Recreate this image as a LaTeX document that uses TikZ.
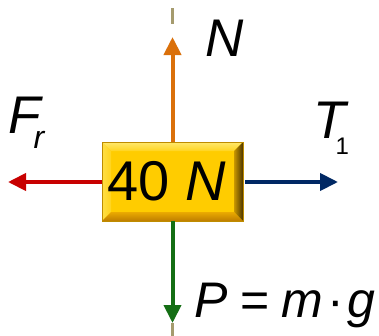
\documentclass[tikz,border=0pt]{standalone}
\usepackage{fontspec}
\setmainfont{Liberation Sans}
\usetikzlibrary{arrows.meta}
\definecolor{gold}{RGB}{255,204,0}
\definecolor{goldline}{RGB}{190,140,0}
\definecolor{goldtop}{RGB}{255,232,110}
\definecolor{goldtop2}{RGB}{255,212,30}
\definecolor{goldleft}{RGB}{255,222,70}
\definecolor{goldright1}{RGB}{200,150,0}
\definecolor{goldright2}{RGB}{75,52,0}
\definecolor{goldbot1}{RGB}{235,170,0}
\definecolor{goldbot2}{RGB}{190,125,0}
\definecolor{forange}{RGB}{218,112,10}
\definecolor{fgreen}{RGB}{20,110,20}
\definecolor{fred}{RGB}{200,0,0}
\definecolor{fnavy}{RGB}{0,40,100}
\definecolor{axtan}{RGB}{165,155,110}
\tikzset{
  force/.style={line width=4pt, -{Triangle[length=18pt,width=17pt]}},
  lab/.style={inner sep=0pt, font=\fontsize{53}{53}\selectfont\itshape},
  goldbox/.style={minimum width=141pt, minimum height=79pt, inner sep=0pt,
    fill=gold, draw=goldline, line width=0.6pt,
    font=\fontsize{56}{56}\selectfont,
    path picture={
      \def\bv{9pt}
      \coordinate (pnw) at (path picture bounding box.north west);
      \coordinate (pne) at (path picture bounding box.north east);
      \coordinate (psw) at (path picture bounding box.south west);
      \coordinate (pse) at (path picture bounding box.south east);
      \shade[top color=goldtop, bottom color=goldtop2] (pnw) -- (pne) -- ([xshift=-\bv,yshift=-\bv]pne) -- ([xshift=\bv,yshift=-\bv]pnw) -- cycle;
      \shade[left color=goldleft, right color=goldtop2] (pnw) -- ([xshift=\bv,yshift=-\bv]pnw) -- ([xshift=\bv,yshift=\bv]psw) -- (psw) -- cycle;
      \shade[left color=goldright1, right color=goldright2] (pne) -- (pse) -- ([xshift=-\bv,yshift=\bv]pse) -- ([xshift=-\bv,yshift=-\bv]pne) -- cycle;
      \shade[top color=goldbot1, bottom color=goldbot2] (psw) -- (pse) -- ([xshift=-\bv,yshift=\bv]pse) -- ([xshift=\bv,yshift=\bv]psw) -- cycle;
    }}
}
\begin{document}
\begin{tikzpicture}[x=1pt,y=-1pt]
\useasboundingbox (0,0) rectangle (379,335);
\fill[white] (0,0) rectangle (379,335);
% axis
\coordinate (axtop) at (172.5,8);
\coordinate (axbot) at (172.5,336);
\draw[axtan, line width=3pt, dash pattern=on 16pt off 29pt] (axtop) -- (axbot);
% box
\node[goldbox] (box) at (172.5,181.5) {40 \textit{N}\kern12pt};
% tips
\coordinate (ntip) at (172.5,37);
\coordinate (ptip) at (172.5,323);
\coordinate (ftip) at (8,182);
\coordinate (ttip) at (338,182);
\draw[force, forange] (box.north) -- (ntip);
\draw[force, fgreen] (box.south) -- (ptip);
\draw[force, fred] (box.west |- ftip) -- (ftip);
\draw[force, fnavy] ([xshift=2pt]box.east |- ttip) -- (ttip);
% labels
\node[lab, anchor=base west] (nlab) at (205,56) {N};
\node[lab, anchor=base west] (flab) at (8,133) {F\kern-7pt\raisebox{-15pt}{\fontsize{32}{32}\selectfont r}};
\node[lab, anchor=base west] (tlab) at (313,138) {T\kern-10pt\raisebox{-16pt}{\fontsize{24}{24}\selectfont\upshape 1}};
\node[lab, anchor=base west, font=\fontsize{50}{50}\selectfont] (plab) at (194,317) {\textit{P}\kern13pt=\kern12pt\textit{m}\kern4pt·\kern3pt\textit{g}};
\end{tikzpicture}
\end{document}
